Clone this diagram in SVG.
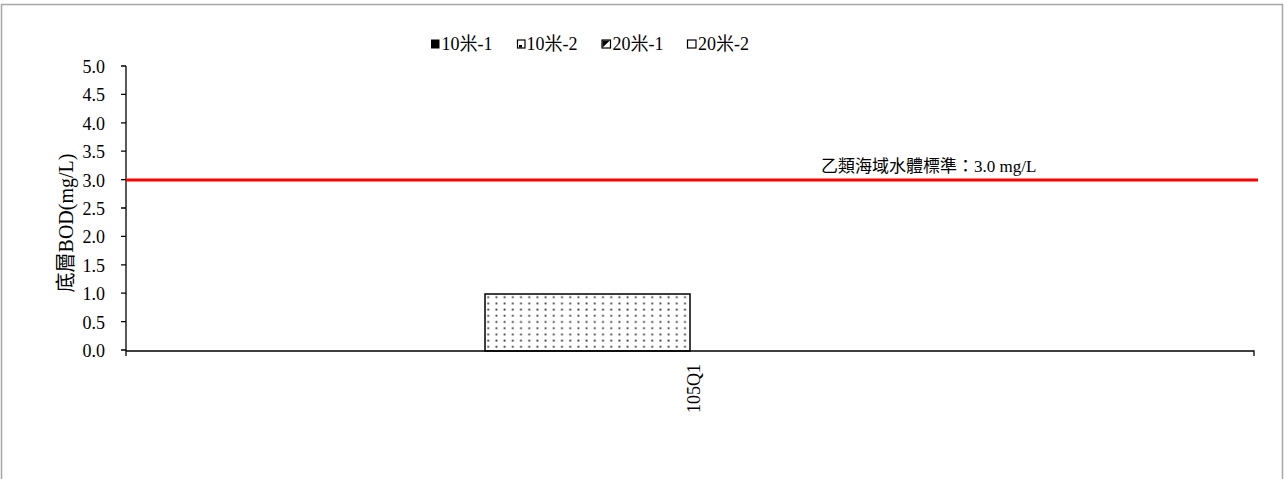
<svg xmlns="http://www.w3.org/2000/svg" width="1287" height="479" viewBox="0 0 1287 479">
<style>
text{font-family:"Liberation Serif","Noto Sans CJK TC",serif;fill:#000}
.tk{font-size:18px;text-anchor:end}
.lg{font-size:18px}
.ax{stroke:#000;stroke-width:1.3;fill:none}
.mk{fill:#fff;stroke:#000;stroke-width:1.2}
</style>
<defs>
<pattern id="dots" x="485" y="294" width="8.2" height="6.2" patternUnits="userSpaceOnUse">
<rect x="2.3" y="2.3" width="1.8" height="1.8" fill="#333"/>
</pattern>
</defs>
<rect x="0" y="0" width="1287" height="479" fill="#fff"/>
<rect x="1.5" y="4.5" width="1281" height="490" fill="none" stroke="#a6a6a6" stroke-width="1.5"/>
<g id="axes">
<path class="ax" d="M126,66V351H1254V356M121,66H126M121,94.4H126M121,122.8H126M121,151.2H126M121,179.6H126M121,208H126M121,236.4H126M121,264.8H126M121,293.2H126M121,321.6H126M121,350H126M126,351V356"/>
<text class="tk" x="105" y="73">5.0</text>
<text class="tk" x="105" y="101.4">4.5</text>
<text class="tk" x="105" y="129.8">4.0</text>
<text class="tk" x="105" y="158.2">3.5</text>
<text class="tk" x="105" y="186.6">3.0</text>
<text class="tk" x="105" y="215">2.5</text>
<text class="tk" x="105" y="243.4">2.0</text>
<text class="tk" x="105" y="271.8">1.5</text>
<text class="tk" x="105" y="300.2">1.0</text>
<text class="tk" x="105" y="328.6">0.5</text>
<text class="tk" x="105" y="357">0.0</text>
<text font-size="20" text-anchor="middle" transform="translate(73,223) rotate(-90)">底層BOD(mg/L)</text>
<text font-size="18" text-anchor="end" transform="translate(700,364) rotate(-90)">105Q1</text>
</g>
<g id="bar">
<rect x="485" y="294" width="205" height="57" fill="url(#dots)" stroke="#000" stroke-width="1.5"/>
</g>
<g id="standard">
<line x1="126" y1="180" x2="1258" y2="180" stroke="#ff0000" stroke-width="3"/>
<text font-size="17" x="821" y="172">乙類海域水體標準：3.0 mg/L</text>
</g>
<g id="legend">
<rect x="431" y="39.5" width="8.5" height="9" fill="#000"/>
<text class="lg" x="441.5" y="49.5">10米-1</text>
<rect x="517.5" y="40" width="7.5" height="8" class="mk"/>
<rect x="519" y="45" width="3" height="2.5" fill="#000"/>
<text class="lg" x="526.5" y="49.5">10米-2</text>
<rect x="602" y="40" width="8.5" height="8" class="mk"/>
<path d="M602.5,40.5H610L602.5,47.5Z" fill="#000"/>
<text class="lg" x="612.5" y="49.5">20米-1</text>
<rect x="687.5" y="40" width="8.5" height="8" class="mk"/>
<text class="lg" x="698" y="49.5">20米-2</text>
</g>
</svg>
